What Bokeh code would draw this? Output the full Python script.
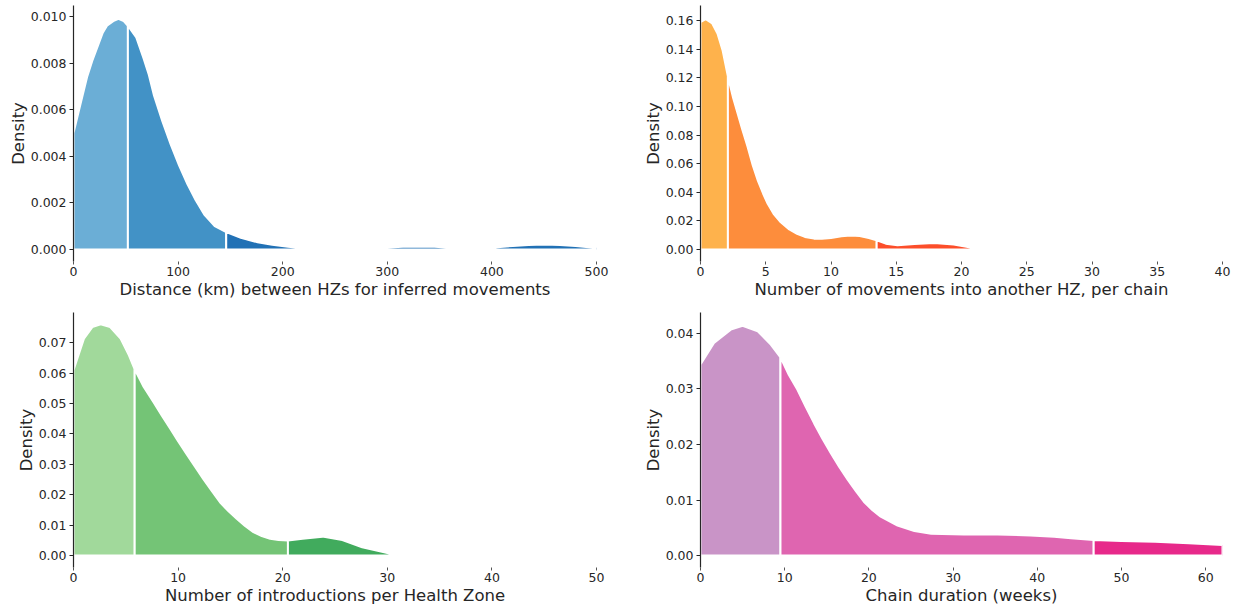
from bokeh.plotting import figure
from bokeh.layouts import column, row
from bokeh.models import Range1d, FixedTicker
from bokeh.embed import file_html
from bokeh.resources import INLINE

# ---------------- data ----------------
dist_km = [0, 7, 13, 18, 23, 28, 32, 38, 43, 48, 52, 60, 67, 72, 77, 85, 93, 101, 109,
           117, 125, 135, 146, 160, 176, 190, 205, 215, 225, 232,
           287, 300, 315, 330, 345, 360, 367, 390, 405, 420, 435, 450, 465, 480, 490, 500]
dist_density = [0.0050, 0.0063, 0.0074, 0.0081, 0.0087, 0.0093, 0.0096, 0.0098, 0.0099,
                0.0098, 0.0096, 0.0091, 0.0082, 0.0075, 0.0066, 0.0055, 0.0045, 0.0036,
                0.0028, 0.0021, 0.0015, 0.0010, 0.00075, 0.00050, 0.00031, 0.00020,
                0.00012, 0.00007, 0.00004, 0.0,
                0.0, 0.00009, 0.00012, 0.00013, 0.00012, 0.00008, 0.0, 0.0, 0.00010,
                0.00015, 0.00019, 0.00021, 0.00019, 0.00015, 0.00011, 0.00007]
dist_breaks = [52, 146]

moves_n = [0, 0.4, 0.9, 1.3, 1.7, 2.1, 2.5, 2.85, 3.2, 3.6, 4.0, 4.4, 4.8, 5.15, 5.6,
           6.15, 6.8, 7.4, 8.0, 8.7, 9.3, 10.0, 10.8, 11.5, 12.2, 12.9, 13.5, 14.2,
           15.1, 16.4, 17.9, 19.4, 20.7, 21.7]
moves_density = [0.159, 0.161, 0.158, 0.151, 0.139, 0.121, 0.106, 0.095, 0.084, 0.072,
                 0.059, 0.048, 0.039, 0.032, 0.025, 0.019, 0.014, 0.011, 0.0088, 0.0076,
                 0.0075, 0.0081, 0.0092, 0.0098, 0.0094, 0.0081, 0.0065, 0.0041, 0.0029,
                 0.0039, 0.0045, 0.0035, 0.0014, 0.0]
moves_breaks = [2.1, 13.5]

intro_n = [0, 1.0, 1.8, 2.6, 3.5, 4.5, 5.3, 5.85, 6.7, 7.65, 8.45, 9.25, 10.0, 10.8,
           11.6, 12.4, 13.2, 14.0, 14.8, 15.6, 16.4, 17.2, 18.0, 18.8, 19.6, 20.5,
           21.9, 23.8, 25.7, 27.6, 29.6, 31.0]
intro_density = [0.0609, 0.0713, 0.0751, 0.0760, 0.0751, 0.0713, 0.0658, 0.0612, 0.0555,
                 0.0504, 0.0460, 0.0417, 0.0376, 0.0334, 0.0293, 0.0252, 0.0213, 0.0175,
                 0.0146, 0.0121, 0.0097, 0.0077, 0.0064, 0.0055, 0.0051, 0.0049, 0.0055,
                 0.0062, 0.0051, 0.0027, 0.0011, 0.0]
intro_breaks = [5.85, 20.5]

dur_weeks = [0, 1.6, 3.6, 5.0, 6.8, 8.35, 9.5, 10.5, 11.5, 12.5, 13.5, 14.5, 15.5, 16.5,
             17.5, 18.5, 19.4, 20.4, 21.4, 23.4, 25.4, 27.4, 31.3, 35.3, 39.2, 42, 44,
             46.7, 50, 54, 58, 62]
dur_density = [0.0344, 0.0383, 0.0407, 0.0414, 0.0404, 0.0380, 0.0357, 0.0325, 0.0299,
               0.0268, 0.0238, 0.0210, 0.0184, 0.0159, 0.0136, 0.0115, 0.0097, 0.0082,
               0.0070, 0.0054, 0.0044, 0.0039, 0.0038, 0.0038, 0.0036, 0.0034, 0.0031,
               0.0028, 0.0026, 0.0025, 0.0022, 0.0019]
dur_breaks = [9.5, 46.7]

dist_xticks = [0, 100, 200, 300, 400, 500]
dist_yticks = [0.000, 0.002, 0.004, 0.006, 0.008, 0.010]
moves_xticks = [0, 5, 10, 15, 20, 25, 30, 35, 40]
moves_yticks = [0.00, 0.02, 0.04, 0.06, 0.08, 0.10, 0.12, 0.14, 0.16]
intro_xticks = [0, 10, 20, 30, 40, 50]
intro_yticks = [0.00, 0.01, 0.02, 0.03, 0.04, 0.05, 0.06, 0.07]
dur_xticks = [0, 10, 20, 30, 40, 50, 60]
dur_yticks = [0.00, 0.01, 0.02, 0.03, 0.04]

dist_colors = ["#6baed6", "#4292c6", "#2171b5"]
moves_colors = ["#feb24c", "#fd8d3c", "#fc4e2a"]
intro_colors = ["#a1d99b", "#74c476", "#41ab5d"]
dur_colors = ["#c994c7", "#df65b0", "#e7298a"]

TXT = "#262626"
FONT = "DejaVu Sans"


def panel(xs, ys, breaks, colors, xr, yr, xticks, yticks, ydec, xlabel,
          width, height, mbl, mbr, mbt, mbb):
    p = figure(width=width, height=height, x_range=Range1d(*xr), y_range=Range1d(*yr),
               output_backend="svg", toolbar_location=None,
               min_border_left=mbl, min_border_right=mbr,
               min_border_top=mbt, min_border_bottom=mbb)
    p.outline_line_color = None
    p.xgrid.visible = False
    p.ygrid.visible = False
    p.background_fill_color = "white"
    p.border_fill_color = "white"

    # split the curve into segments at the break values
    idx = [0] + [xs.index(b) for b in breaks] + [len(xs) - 1]
    for k in range(len(idx) - 1):
        sx = xs[idx[k]:idx[k + 1] + 1]
        sy = ys[idx[k]:idx[k + 1] + 1]
        px = list(sx) + [sx[-1], sx[0]]
        py = list(sy) + [0, 0]
        p.patch(px, py, fill_color=colors[k], line_color="white", line_width=2.0)

    xa = p.xaxis[0]
    xa.ticker = FixedTicker(ticks=xticks)
    xa.major_label_overrides = {t: str(t) for t in xticks}
    xa.axis_line_color = None
    xa.major_tick_line_color = "#555555"
    xa.major_tick_in = 0
    xa.major_tick_out = 3
    xa.minor_tick_line_color = None
    xa.axis_label = xlabel
    xa.axis_label_text_font = FONT
    xa.axis_label_text_font_size = "16.5px"
    xa.axis_label_text_font_style = "normal"
    xa.axis_label_text_color = TXT
    xa.axis_label_standoff = 1
    xa.major_label_text_font = FONT
    xa.major_label_text_font_size = "12.5px"
    xa.major_label_text_color = TXT
    xa.major_label_standoff = 2

    ya = p.yaxis[0]
    ya.ticker = FixedTicker(ticks=yticks)
    ya.major_label_overrides = {t: f"{t:.{ydec}f}" for t in yticks}
    ya.axis_line_color = TXT
    ya.axis_line_width = 1.2
    ya.major_tick_line_color = TXT
    ya.major_tick_in = 0
    ya.major_tick_out = 4
    ya.minor_tick_line_color = None
    ya.axis_label = "Density"
    ya.axis_label_text_font = FONT
    ya.axis_label_text_font_size = "16.5px"
    ya.axis_label_text_font_style = "normal"
    ya.axis_label_text_color = TXT
    ya.axis_label_standoff = 0
    ya.major_label_text_font = FONT
    ya.major_label_text_font_size = "12.5px"
    ya.major_label_text_color = TXT
    ya.major_label_standoff = 3
    return p


# top row: frames at y 5..261 ; bottom row: frames at y 312..567
p1 = panel(dist_km, dist_density, dist_breaks, dist_colors, (0, 500), (-0.000515, 0.01047),
           dist_xticks, dist_yticks, 3, "Distance (km) between HZs for inferred movements",
           620, 305, 73, 24, 5, 44)
p2 = panel(moves_n, moves_density, moves_breaks, moves_colors, (0, 40), (-0.00839, 0.1706),
           moves_xticks, moves_yticks, 2, "Number of movements into another HZ, per chain",
           625, 305, 80, 23, 5, 44)
p3 = panel(intro_n, intro_density, intro_breaks, intro_colors, (0, 50), (-0.00395, 0.0799),
           intro_xticks, intro_yticks, 2, "Number of introductions per Health Zone",
           620, 303, 73, 24, 7, 41)
p4 = panel(dur_weeks, dur_density, dur_breaks, dur_colors, (0, 62), (-0.00216, 0.04378),
           dur_xticks, dur_yticks, 2, "Chain duration (weeks)",
           625, 303, 80, 23, 7, 41)

layout = column(row(p1, p2, spacing=0), row(p3, p4, spacing=0), spacing=0)
open("out.html", "w").write(file_html(layout, INLINE))
